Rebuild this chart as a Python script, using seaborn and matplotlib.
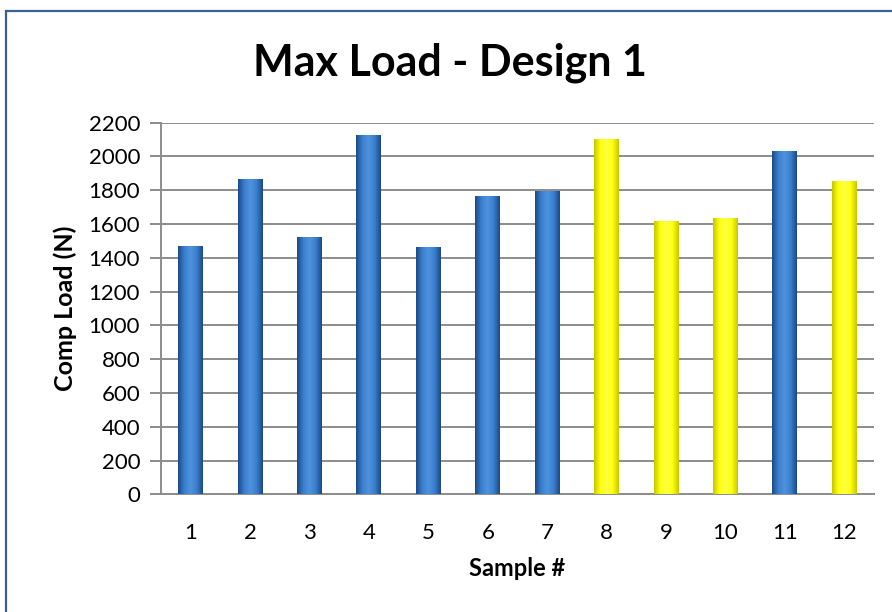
import numpy as np
import pandas as pd
import matplotlib
matplotlib.use("Agg")
import matplotlib.pyplot as plt
from matplotlib.colors import LinearSegmentedColormap
from matplotlib.patches import Rectangle
import seaborn as sns

# values
samples = ["1", "2", "3", "4", "5", "6", "7", "8", "9", "10", "11", "12"]
comp_load = [1472, 1867, 1526, 2129, 1462, 1768, 1794, 2103, 1616, 1636, 2034, 1853]
group = ["blue", "blue", "blue", "blue", "blue", "blue", "blue",
         "yellow", "yellow", "yellow", "blue", "yellow"]
y_ticks = [0, 200, 400, 600, 800, 1000, 1200, 1400, 1600, 1800, 2000, 2200]

df = pd.DataFrame({"sample": samples, "load": comp_load, "group": group})

sns.set_style("white")
plt.rcParams["font.family"] = ["Lato", "DejaVu Sans"]
plt.rcParams["text.color"] = "black"
plt.rcParams["axes.labelcolor"] = "black"
plt.rcParams["xtick.color"] = "black"
plt.rcParams["ytick.color"] = "black"

fig = plt.figure(figsize=(8.92, 6.12), dpi=100)
ax = fig.add_axes([0.1805, 0.1923, 0.7993, 0.6072])

palette = {"blue": "#2f6db5", "yellow": "#f2f200"}
sns.barplot(data=df, x="sample", y="load", hue="group", palette=palette,
            dodge=False, width=0.42, legend=False, ax=ax, zorder=3,
            edgecolor="none")

# cylinder-like shading on each bar
shades = {
    "blue": LinearSegmentedColormap.from_list("b", ["#1d4a85", "#3a7fcf", "#4f92dd", "#3a7fcf", "#1d4a85"]),
    "yellow": LinearSegmentedColormap.from_list("y", ["#c8c800", "#ffff10", "#ffff40", "#ffff10", "#c8c800"]),
}
grad = np.linspace(0, 1, 64).reshape(1, -1)
for patch in ax.patches:
    x0, y0 = patch.get_x(), patch.get_y()
    w, h = patch.get_width(), patch.get_height()
    fc = patch.get_facecolor()
    key = "yellow" if fc[2] < 0.3 else "blue"
    im = ax.imshow(grad, cmap=shades[key], aspect="auto",
                   extent=(x0, x0 + w, y0, y0 + h), zorder=4)
    im.set_clip_path(patch)

ax.set_xlim(-0.5, 11.5)
ax.set_ylim(0, 2200)
ax.set_yticks(y_ticks)
ax.yaxis.grid(True, color="#8c8c8c", linewidth=1.4, zorder=0)
ax.set_axisbelow(True)

for side in ["top", "right"]:
    ax.spines[side].set_visible(False)
for side in ["left", "bottom"]:
    ax.spines[side].set_color("#8c8c8c")
    ax.spines[side].set_linewidth(1.4)

ax.tick_params(axis="y", length=8, width=1.4, color="#8c8c8c", labelsize=16, pad=7, left=True)
ax.tick_params(axis="x", length=0, labelsize=16, pad=21)

ax.set_xlabel("Sample #", fontsize=17, fontweight="bold", labelpad=10)
ax.set_ylabel("Comp Load (N)", fontsize=18, fontweight="bold", labelpad=8)
fig.text(0.5045, 0.897, "Max Load - Design 1", ha="center", va="center",
         fontsize=31, fontweight="bold")

# outer chart border (only the left and top edges fall inside the image)
fig.patches.append(Rectangle((6 / 892, -0.1), 1.2, (612 - 11) / 612 + 0.1,
                             transform=fig.transFigure, fill=False,
                             edgecolor="#3a5f95", linewidth=1.6))

fig.savefig("out.png", dpi=100)
